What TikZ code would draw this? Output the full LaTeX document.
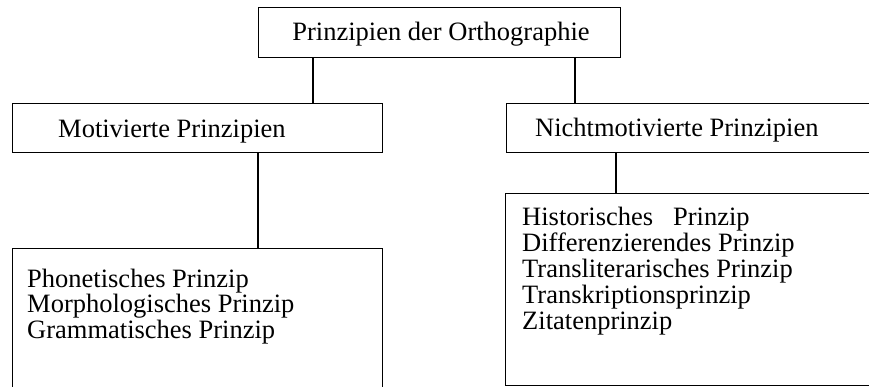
\documentclass[tikz,border=0pt]{standalone}
\usepackage{fontspec}
\setmainfont{Liberation Serif}
\begin{document}
\begin{tikzpicture}[x=1pt, y=-1pt,
  box/.style={draw, line width=1.2pt, rectangle, inner sep=0pt, anchor=north west},
  txt/.style={inner sep=0pt, font=\fontsize{26.5}{26}\selectfont},
  entry/.style={txt, anchor=base west},
  link/.style={line width=1.2pt}]
\useasboundingbox (0,0) rectangle (869,386);
\clip (0,0) rectangle (869,386);

% boxes
\node[box, minimum width=362pt, minimum height=50pt] (top) at (258,7) {};
\node[box, minimum width=370pt, minimum height=49pt] (lmid) at (12,103) {};
\node[box, minimum width=400pt, minimum height=49pt] (rmid) at (506,103) {};
\node[box, minimum width=370pt, minimum height=160pt] (lbot) at (12,248) {};
\node[box, minimum width=400pt, minimum height=192pt] (rbot) at (505,193) {};

% headings
\node[txt, anchor=base] (ttop) at (441,40) {Prinzipien der Orthographie};
\node[entry] (tlmid) at (58,137) {Motivierte Prinzipien};
\node[entry] (trmid) at (535,136) {Nichtmotivierte Prinzipien};

% lists
\node[entry] (l1) at (27,287) {Phonetisches Prinzip};
\node[entry] (l2) at (27,312.5) {Morphologisches Prinzip};
\node[entry] (l3) at (27,338) {Grammatisches Prinzip};

\node[entry] (r1) at (522,225) {Historisches\hspace{0.5em} Prinzip};
\node[entry] (r2) at (522,251) {Differenzierendes Prinzip};
\node[entry] (r3) at (522,277) {Transliterarisches Prinzip};
\node[entry] (r4) at (522,303) {Transkriptionsprinzip};
\node[entry] (r5) at (522,329) {Zitatenprinzip};

% connectors
\draw[link] ([xshift=55pt]top.south west) -- ([xshift=301pt]lmid.north west);
\draw[link] ([xshift=317pt]top.south west) -- ([xshift=69pt]rmid.north west);
\draw[link] ([xshift=246pt]lmid.south west) -- ([xshift=246pt]lbot.north west);
\draw[link] ([xshift=110pt]rmid.south west) -- ([xshift=111pt]rbot.north west);
\end{tikzpicture}
\end{document}
